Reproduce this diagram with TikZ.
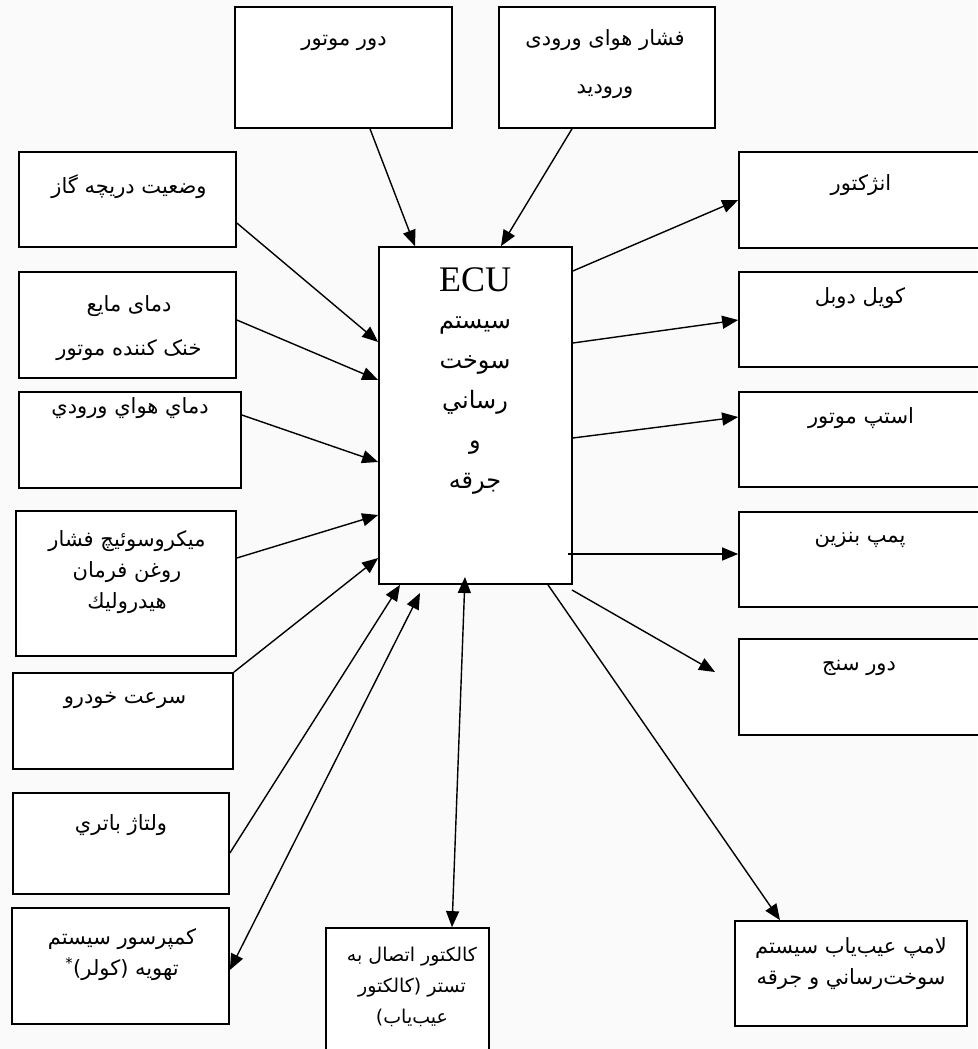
\documentclass[tikz,border=0pt]{standalone}
\usepackage{fontspec}
\newfontfamily\arabicfont[Script=Arabic]{DejaVu Sans}
\newfontfamily\ecufont{Liberation Serif}
\TeXXeTstate=1
\usetikzlibrary{arrows.meta,positioning}
\newcommand{\fa}[1]{\beginR #1\endR}

\begin{document}
\begin{tikzpicture}[x=1pt, y=-1pt,
    box/.style={draw, line width=1.7pt, inner sep=0pt, fill=white},
    txt/.style={font=\arabicfont\fontsize{21}{31}\selectfont, align=center, inner sep=0pt},
    conn/.style={line width=1.4pt, -{Triangle[length=16pt,width=13pt]}},
    both/.style={line width=1.4pt, {Triangle[length=16pt,width=13pt]}-{Triangle[length=16pt,width=13pt]}}]
    \useasboundingbox[fill=white!98!black] (0,0) rectangle (977,1049);

    %input boxes on top
        \node[box, minimum width=217, minimum height=121] (dormotor) at (343.5,67.5) {};
        \node[box, minimum width=216, minimum height=121] (feshar) at (607,67.5) {};

    %input boxes on the left
        \node[box, minimum width=217, minimum height=95] (vaziat) at (127.5,199.5) {};
        \node[box, minimum width=217, minimum height=106] (maye) at (127.5,325) {};
        \node[box, minimum width=222, minimum height=96] (hava) at (130,440) {};
        \node[box, minimum width=220, minimum height=145] (mikro) at (126,583.5) {};
        \node[box, minimum width=220, minimum height=96] (sorat) at (123,721) {};
        \node[box, minimum width=216, minimum height=101] (voltaj) at (121,843.5) {};
        \node[box, minimum width=217, minimum height=116] (kompresor) at (120.5,966) {};

    %the control unit
        \node[box, minimum width=193, minimum height=337] (ecu) at (475.5,415.5) {};

    %output boxes on the right and below
        \node[box, minimum width=242, minimum height=96] (anjektor) at (860,200) {};
        \node[box, minimum width=242, minimum height=95] (koil) at (860,319.5) {};
        \node[box, minimum width=242, minimum height=95] (step) at (860,439.5) {};
        \node[box, minimum width=242, minimum height=95] (pomp) at (860,559.5) {};
        \node[box, minimum width=242, minimum height=96] (dorsanj) at (860,687) {};
        \node[box, minimum width=163, minimum height=132] (kolektor) at (407.5,994) {};
        \node[box, minimum width=232, minimum height=105] (lamp) at (851,973.5) {};

    %texts
        \node[txt] (tdormotor) at (344,43) {\fa{دور موتور}};
        \node[txt] (tfeshar) at (605,64) {\fa{فشار هوای ورودی}\\[17pt]\fa{ورودید}};
        \node[txt] (tvaziat) at (129,187) {\fa{وضعیت دریچه گاز}};
        \node[txt] (tmaye) at (129,328) {\fa{دمای مایع}\\[13pt]\fa{خنک کننده موتور}};
        \node[txt] (thava) at (130,408) {\fa{دماي هواي ورودي}};
        \node[txt] (tmikro) at (127,572) {\fa{ميكروسوئيچ فشار}\\\fa{روغن فرمان}\\\fa{هيدروليك}};
        \node[txt] (tsorat) at (125,700) {\fa{سرعت خودرو}};
        \node[txt] (tvoltaj) at (121,825) {\fa{ولتاژ باتري}};
        \node[txt] (tkompresor) at (122,955) {\fa{كمپرسور سيستم}\\\fa{تهويه (كولر)\textsuperscript{*}}};
        \node[txt] (tanjektor) at (861,185) {\fa{انژکتور}};
        \node[txt] (tkoil) at (860,298) {\fa{کویل دوبل}};
        \node[txt] (tstep) at (861,418) {\fa{استپ موتور}};
        \node[txt] (tpomp) at (860,540) {\fa{پمپ بنزين}};
        \node[txt] (tdorsanj) at (859,668) {\fa{دور سنج}};
        \node[txt, font=\arabicfont\fontsize{19}{31}\selectfont] (tkolektor) at (412,987)
            {\fa{كالكتور اتصال به}\\\fa{تستر (كالكتور}\\\fa{عيب‌ياب)}};
        \node[txt] (tlamp) at (851,964) {\fa{لامپ عيب‌ياب سيستم}\\\fa{سوخت‌رساني و جرقه}};
        \node[inner sep=0pt, font=\ecufont\fontsize{36}{40}\selectfont] (tecu) at (475,280) {ECU};
        \node[txt, font=\arabicfont\fontsize{24}{40}\selectfont, below=24pt of tecu]
            (tecufa) {\fa{سيستم}\\\fa{سوخت}\\\fa{رساني}\\\fa{و}\\\fa{جرقه}};

    %free ends below the control unit
        \coordinate[] (k1) at (420,593);
        \coordinate[] (k2) at (465,577);
        \coordinate[] (p1) at (568,554);
        \coordinate[] (d1) at (572,590);
        \coordinate[] (d2) at (715,672);

    %inputs
        \draw[conn] (dormotor.south -| 370,0) -- (ecu.north -| 415,0);
        \draw[conn] (feshar.south -| 572,0) -- (ecu.north -| 501,0);
        \draw[conn] (vaziat.east |- 0,223) -- (ecu.west |- 0,342);
        \draw[conn] (maye.east |- 0,320) -- (ecu.west |- 0,380);
        \draw[conn] (hava.east |- 0,415) -- (ecu.west |- 0,462);
        \draw[conn] (mikro.east |- 0,558) -- (ecu.west |- 0,515);
        \draw[conn] (sorat.north east) -- (ecu.west |- 0,558);
        \draw[conn] (voltaj.east |- 0,853) -- (ecu.south -| 400,0);
        \draw[both] (kompresor.east |- 0,970) -- (k1);
        \draw[both] (kolektor.north -| 452,0) -- (k2);

    %outputs
        \draw[conn] (ecu.east |- 0,271) -- (anjektor.west |- 0,200);
        \draw[conn] (ecu.east |- 0,343) -- (koil.west |- 0,320);
        \draw[conn] (ecu.east |- 0,438) -- (step.west |- 0,417);
        \draw[conn] (p1) -- (pomp.west |- p1);
        \draw[conn] (d1) -- (d2);
        \draw[conn] (ecu.south -| 548,0) -- (lamp.north -| 780,0);

\end{tikzpicture}
\end{document}
